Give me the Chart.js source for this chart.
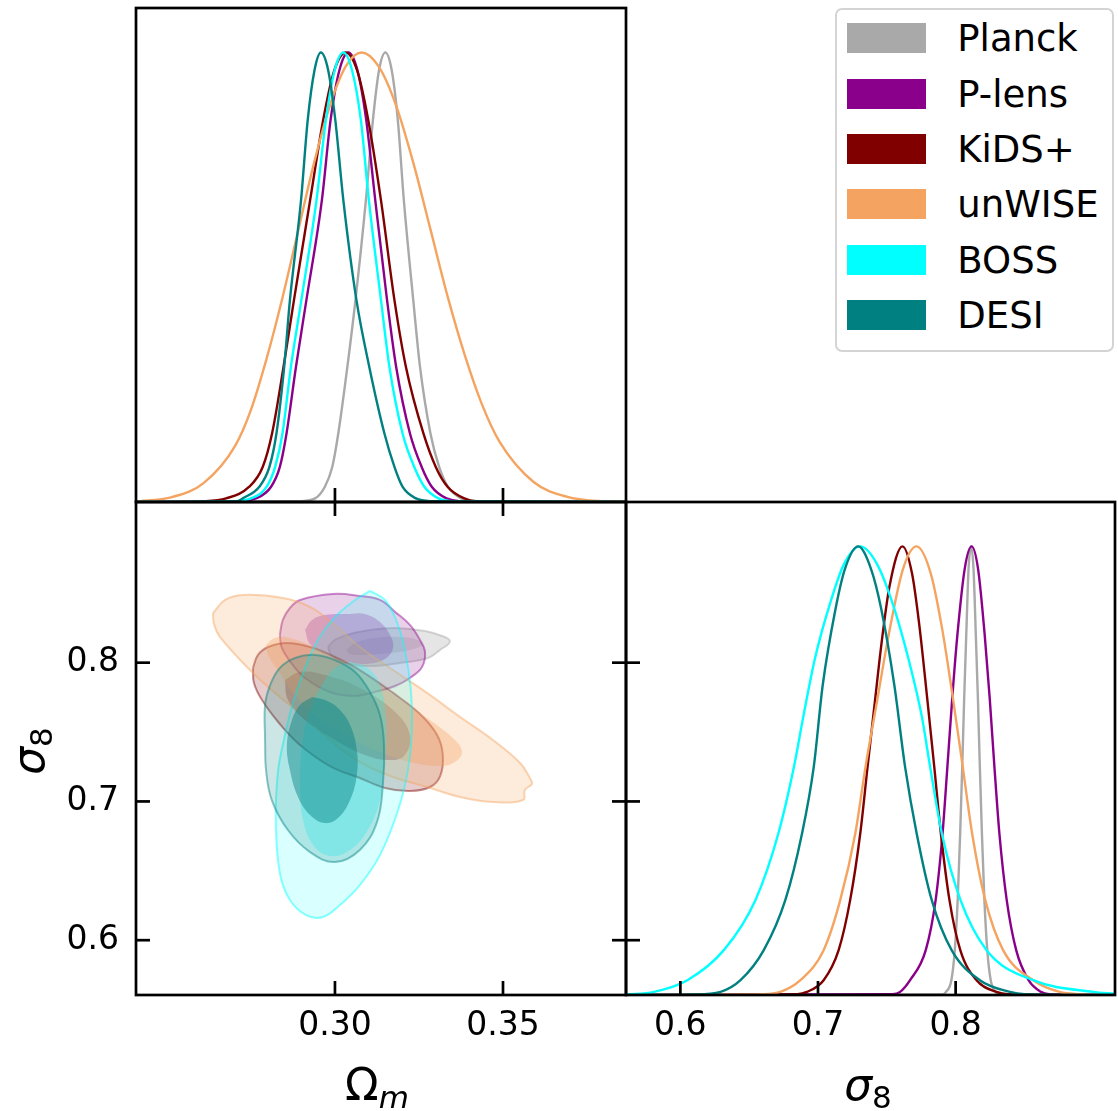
<!DOCTYPE html>
<html lang="en">
<head>
<meta charset="utf-8">
<title>Ωm – σ8 constraints</title>
<script src="https://cdn.jsdelivr.net/npm/chart.js@4.4.1/dist/chart.umd.min.js"></script>
<style>
  html, body { margin: 0; padding: 0; background: #ffffff; }
  #stage { position: relative; width: 1118px; height: 1111px; overflow: hidden; background: #ffffff; font-family: 'DejaVu Sans', sans-serif; }
  #stage canvas { position: absolute; }
  #legend { position: absolute; left: 835px; top: 8px; width: 279px; height: 344px; box-sizing: border-box;
            border: 2.7px solid #d4d4d4; border-radius: 7px; background: rgba(255,255,255,0.85); }
  .swatch { position: absolute; width: 79px; height: 30px; }
  .entry { position: absolute; font-size: 37px; line-height: 40px; height: 40px; color: #000; white-space: nowrap; }
</style>
</head>
<body>
<div id="stage">
  <canvas id="omegaPanel" width="660" height="530" style="left:0px;top:0px"></canvas>
  <canvas id="jointPanel" width="660" height="631" style="left:0px;top:480px"></canvas>
  <canvas id="sigmaPanel" width="518" height="631" style="left:600px;top:480px"></canvas>
  <div id="legend"></div>
</div>
<script>
// ---------------- axis ranges and ticks ----------------
const omegaRange = [0.2408, 0.3866];
const sigmaRange = [0.5605, 0.9158];
const densityMax = 1.099;
const omegaTicks = [0.30, 0.35];
const omegaTickLabels = ['0.30', '0.35'];
const sigmaTicks = [0.6, 0.7, 0.8];
const sigmaTickLabels = ['0.6', '0.7', '0.8'];

const probeNames = ['Planck', 'P-lens', 'KiDS+', 'unWISE', 'BOSS', 'DESI'];

// ---------------- 1D marginals of Ωm: [Ωm, density / peak] ----------------
const omPlanck = [[0.2408,0],[0.2900,0.002],[0.2941,0.008],[0.2970,0.034],[0.2992,0.078],[0.3010,0.153],[0.3037,0.301],[0.3061,0.449],[0.3092,0.671],[0.3113,0.85],[0.3131,0.96],[0.3150,1],[0.3169,0.96],[0.3187,0.85],[0.3205,0.671],[0.3233,0.449],[0.3253,0.301],[0.3284,0.153],[0.3310,0.078],[0.3336,0.034],[0.3375,0.008],[0.3410,0.002],[0.3866,0]];
const omPLens = [[0.2408,0],[0.2712,0.002],[0.2765,0.008],[0.2810,0.034],[0.2836,0.078],[0.2856,0.153],[0.2884,0.301],[0.2915,0.449],[0.2961,0.671],[0.2987,0.85],[0.3013,0.96],[0.3040,1],[0.3067,0.96],[0.3093,0.85],[0.3120,0.671],[0.3155,0.449],[0.3182,0.301],[0.3223,0.153],[0.3258,0.078],[0.3288,0.034],[0.3332,0.008],[0.3370,0.002],[0.3866,0]];
const omKiDS = [[0.2408,0],[0.2615,0.002],[0.2676,0.008],[0.2745,0.034],[0.2785,0.078],[0.2813,0.153],[0.2847,0.301],[0.2878,0.449],[0.2926,0.671],[0.2965,0.85],[0.2998,0.96],[0.3032,1],[0.3066,0.96],[0.3099,0.85],[0.3137,0.671],[0.3177,0.449],[0.3211,0.301],[0.3263,0.153],[0.3300,0.078],[0.3335,0.034],[0.3385,0.008],[0.3420,0.002],[0.3866,0]];
const omUnWISE = [[0.2408,0.0015],[0.2421,0.002],[0.2515,0.011],[0.2609,0.042],[0.2703,0.125],[0.2750,0.205],[0.2797,0.320],[0.2844,0.455],[0.2891,0.605],[0.2938,0.755],[0.2985,0.882],[0.3032,0.969],[0.3079,1],[0.3130,0.969],[0.3182,0.882],[0.3233,0.755],[0.3284,0.607],[0.3335,0.458],[0.3387,0.325],[0.3438,0.216],[0.3489,0.135],[0.3592,0.044],[0.3694,0.011],[0.3797,0.002],[0.3866,0.001]];
const omBOSS = [[0.2408,0],[0.2704,0.002],[0.2750,0.008],[0.2797,0.034],[0.2822,0.078],[0.2844,0.153],[0.2869,0.301],[0.2900,0.449],[0.2945,0.671],[0.2973,0.85],[0.2999,0.96],[0.3025,1],[0.3051,0.96],[0.3077,0.85],[0.3101,0.671],[0.3137,0.449],[0.3162,0.301],[0.3201,0.153],[0.3236,0.078],[0.3266,0.034],[0.3308,0.008],[0.3346,0.002],[0.3866,0]];
const omDESI = [[0.2408,0],[0.2711,0.002],[0.2725,0.008],[0.2775,0.034],[0.2805,0.078],[0.2826,0.153],[0.2849,0.301],[0.2866,0.449],[0.2899,0.671],[0.2919,0.85],[0.2939,0.96],[0.2958,1],[0.2980,0.96],[0.3001,0.85],[0.3025,0.671],[0.3064,0.449],[0.3102,0.301],[0.3147,0.153],[0.3177,0.078],[0.3201,0.034],[0.3241,0.008],[0.3283,0.002],[0.3866,0]];

// ---------------- 1D marginals of σ8: [σ8, density / peak] ----------------
const s8Planck = [[0.5605,0],[0.7900,0.001],[0.7930,0.007],[0.7969,0.033],[0.7994,0.100],[0.8015,0.212],[0.8033,0.360],[0.8048,0.508],[0.8062,0.66],[0.8077,0.80],[0.8094,0.95],[0.8112,1],[0.8130,0.95],[0.8147,0.80],[0.8162,0.66],[0.8176,0.508],[0.8191,0.360],[0.8209,0.212],[0.8230,0.100],[0.8255,0.033],[0.8290,0.007],[0.8320,0.001],[0.9158,0]];
const s8PLens = [[0.5605,0],[0.7540,0.002],[0.7597,0.007],[0.7669,0.033],[0.7783,0.100],[0.7855,0.212],[0.7905,0.360],[0.7940,0.508],[0.7975,0.66],[0.8012,0.80],[0.8066,0.95],[0.8116,1],[0.8163,0.95],[0.8212,0.80],[0.8248,0.66],[0.8282,0.508],[0.8318,0.360],[0.8371,0.212],[0.8440,0.100],[0.8530,0.033],[0.8620,0.007],[0.8680,0.002],[0.9158,0]];
const s8KiDS = [[0.5605,0],[0.6850,0.002],[0.6920,0.007],[0.7041,0.033],[0.7150,0.100],[0.7234,0.212],[0.7307,0.360],[0.7360,0.508],[0.7412,0.65],[0.7460,0.78],[0.7519,0.91],[0.7614,1],[0.7683,0.94],[0.7734,0.83],[0.7794,0.66],[0.7845,0.508],[0.7893,0.360],[0.7955,0.212],[0.8034,0.100],[0.8152,0.033],[0.8297,0.007],[0.8380,0.002],[0.9158,0]];
const s8UnWISE = [[0.5605,0],[0.6600,0.002],[0.6727,0.007],[0.6872,0.033],[0.7041,0.100],[0.7162,0.212],[0.7271,0.360],[0.7345,0.508],[0.7432,0.66],[0.7512,0.80],[0.7618,0.95],[0.7717,1],[0.7819,0.94],[0.7900,0.82],[0.7981,0.66],[0.8052,0.508],[0.8120,0.360],[0.8215,0.212],[0.8345,0.100],[0.8563,0.033],[0.8756,0.007],[0.8900,0.002],[0.9158,0]];
const s8BOSS = [[0.5605,0.001],[0.5809,0.007],[0.6051,0.033],[0.6316,0.100],[0.6546,0.212],[0.6712,0.360],[0.6825,0.508],[0.6893,0.62],[0.6978,0.75],[0.7085,0.87],[0.7188,0.96],[0.7307,1],[0.7430,0.96],[0.7545,0.87],[0.7665,0.74],[0.7755,0.62],[0.7815,0.508],[0.7900,0.360],[0.8035,0.212],[0.8225,0.100],[0.8563,0.033],[0.8998,0.007],[0.9158,0.003]];
const s8DESI = [[0.5605,0],[0.6100,0.001],[0.6292,0.007],[0.6437,0.033],[0.6606,0.100],[0.6763,0.212],[0.6884,0.360],[0.6969,0.508],[0.7034,0.69],[0.7127,0.86],[0.7196,0.95],[0.7292,1],[0.7385,0.95],[0.7460,0.86],[0.7555,0.69],[0.7633,0.508],[0.7717,0.360],[0.7826,0.212],[0.7971,0.100],[0.8176,0.033],[0.8394,0.007],[0.8500,0.002],[0.9158,0]];

// ---------------- 2D contours in the (Ωm, σ8) plane: [Ωm, σ8] ----------------
const ctPlanck95 = [[0.2979,0.8113],[0.3000,0.8164],[0.3045,0.8207],[0.3104,0.8236],[0.3179,0.8250],[0.3268,0.8228],[0.3327,0.8185],[0.3342,0.8149],[0.3313,0.8092],[0.3277,0.8034],[0.3193,0.7998],[0.3104,0.7976],[0.3030,0.7998],[0.2991,0.8048]];
const ctPlanck68 = [[0.3033,0.8092],[0.3060,0.8142],[0.3119,0.8178],[0.3193,0.8185],[0.3247,0.8164],[0.3259,0.8128],[0.3223,0.8092],[0.3164,0.8070],[0.3089,0.8056],[0.3045,0.8063]];
const ctPLens95 = [[0.2836,0.8199],[0.2845,0.8308],[0.2866,0.8394],[0.2896,0.8452],[0.2994,0.8495],[0.3074,0.8481],[0.3134,0.8452],[0.3179,0.8366],[0.3223,0.8272],[0.3253,0.8164],[0.3268,0.8077],[0.3259,0.7969],[0.3223,0.7890],[0.3179,0.7832],[0.3119,0.7789],[0.3060,0.7760],[0.2985,0.7789],[0.2911,0.7890],[0.2872,0.7991],[0.2842,0.8106]];
const ctPLens68 = [[0.2911,0.8236],[0.2932,0.8308],[0.2970,0.8344],[0.3045,0.8351],[0.3089,0.8351],[0.3134,0.8293],[0.3164,0.8199],[0.3173,0.8106],[0.3149,0.8027],[0.3089,0.7991],[0.3030,0.8012],[0.2970,0.8063],[0.2926,0.8135]];
const ctKiDS95 = [[0.2756,0.7962],[0.2771,0.8056],[0.2801,0.8113],[0.2857,0.8142],[0.2926,0.8113],[0.3000,0.8041],[0.3074,0.7947],[0.3173,0.7782],[0.3253,0.7630],[0.3304,0.7479],[0.3321,0.7335],[0.3313,0.7183],[0.3283,0.7104],[0.3223,0.7075],[0.3149,0.7097],[0.3074,0.7169],[0.2985,0.7255],[0.2896,0.7407],[0.2836,0.7558],[0.2783,0.7731],[0.2759,0.7854]];
const ctKiDS68 = [[0.2851,0.7875],[0.2896,0.7933],[0.2970,0.7911],[0.3074,0.7818],[0.3179,0.7645],[0.3223,0.7479],[0.3208,0.7335],[0.3164,0.7298],[0.3089,0.7335],[0.3000,0.7443],[0.2911,0.7587],[0.2860,0.7731]];
const ctUnWISE95 = [[0.2637,0.8358],[0.2673,0.8452],[0.2726,0.8488],[0.2845,0.8466],[0.2926,0.8402],[0.3000,0.8272],[0.3074,0.8113],[0.3173,0.7947],[0.3274,0.7782],[0.3372,0.7609],[0.3470,0.7443],[0.3551,0.7277],[0.3580,0.7169],[0.3586,0.7125],[0.3565,0.7083],[0.3560,0.7010],[0.3470,0.6996],[0.3372,0.7032],[0.3274,0.7104],[0.3173,0.7176],[0.3074,0.7284],[0.2985,0.7443],[0.2896,0.7637],[0.2836,0.7753],[0.2756,0.7926],[0.2658,0.8185],[0.2640,0.8280]];
const ctUnWISE68 = [[0.2795,0.8128],[0.2821,0.8178],[0.2866,0.8178],[0.2955,0.8092],[0.3074,0.7933],[0.3173,0.7767],[0.3274,0.7601],[0.3357,0.7443],[0.3378,0.7356],[0.3357,0.7284],[0.3313,0.7255],[0.3223,0.7284],[0.3134,0.7356],[0.3045,0.7457],[0.2955,0.7601],[0.2881,0.7767],[0.2830,0.7947],[0.2801,0.8056]];
const ctBOSS95 = [[0.3104,0.8517],[0.3149,0.8452],[0.3182,0.8308],[0.3208,0.8092],[0.3226,0.7803],[0.3229,0.7515],[0.3217,0.7226],[0.3188,0.6938],[0.3134,0.6613],[0.3074,0.6397],[0.3015,0.6253],[0.2964,0.6167],[0.2914,0.6181],[0.2866,0.6289],[0.2836,0.6484],[0.2824,0.6844],[0.2830,0.7205],[0.2848,0.7443],[0.2875,0.7709],[0.2911,0.7962],[0.2949,0.8164],[0.3000,0.8329],[0.3060,0.8452]];
const ctBOSS68 = [[0.3045,0.8005],[0.3098,0.7962],[0.3134,0.7839],[0.3152,0.7587],[0.3149,0.7298],[0.3134,0.7010],[0.3098,0.6794],[0.3045,0.6650],[0.2985,0.6606],[0.2935,0.6686],[0.2905,0.6866],[0.2896,0.7118],[0.2902,0.7407],[0.2926,0.7659],[0.2961,0.7839],[0.3000,0.7962]];
const ctDESI95 = [[0.2792,0.7443],[0.2792,0.7695],[0.2807,0.7839],[0.2836,0.7962],[0.2881,0.8034],[0.2940,0.8056],[0.3000,0.8019],[0.3060,0.7933],[0.3104,0.7789],[0.3134,0.7623],[0.3146,0.7407],[0.3143,0.7133],[0.3125,0.6851],[0.3074,0.6650],[0.3000,0.6563],[0.2926,0.6635],[0.2860,0.6794],[0.2812,0.7010],[0.2795,0.7226]];
const ctDESI68 = [[0.2932,0.7753],[0.2970,0.7731],[0.3009,0.7673],[0.3045,0.7551],[0.3065,0.7371],[0.3065,0.7190],[0.3045,0.7010],[0.3009,0.6880],[0.2970,0.6844],[0.2926,0.6902],[0.2890,0.7032],[0.2866,0.7226],[0.2857,0.7407],[0.2872,0.7587],[0.2896,0.7695]];

// ---------------- styling ----------------
const probeColors = ['#a9a9a9', '#8b008b', '#800000', '#f4a460', '#00ffff', '#008080'];
const outerFillAlpha = [0.30, 0.18, 0.20, 0.22, 0.15, 0.20];
const innerFillAlpha = [0.30, 0.25, 0.30, 0.35, 0.25, 0.45];
const edgeAlpha = 0.45;
const curveWidth = 2.4;
const frameWidth = 2.7;
const tickFont = { family: 'DejaVu Sans', size: 33 };

const omegaCurves = [omPlanck, omPLens, omKiDS, omUnWISE, omBOSS, omDESI];
const sigmaCurves = [s8Planck, s8PLens, s8KiDS, s8UnWISE, s8BOSS, s8DESI];
const outerContours = [ctPlanck95, ctPLens95, ctKiDS95, ctUnWISE95, ctBOSS95, ctDESI95];
const innerContours = [ctPlanck68, ctPLens68, ctKiDS68, ctUnWISE68, ctBOSS68, ctDESI68];

function rgba(hex, a) {
  const n = parseInt(hex.slice(1), 16);
  return `rgba(${(n >> 16) & 255},${(n >> 8) & 255},${n & 255},${a})`;
}
const toXY = pts => pts.map(p => ({ x: p[0], y: p[1] }));

// marginal density curves; later probes are painted on top
function curveSets(curves) {
  return curves.map((pts, i) => ({
    label: probeNames[i],
    data: toXY(pts),
    borderColor: probeColors[i],
    borderWidth: curveWidth,
    pointRadius: 0,
    fill: false,
    cubicInterpolationMode: 'monotone',
    order: curves.length - i
  }));
}

// closed, filled confidence regions
function contourSets() {
  const sets = [];
  probeNames.forEach((name, i) => {
    const base = (probeNames.length - i) * 2;
    const outer = toXY(outerContours[i]); outer.push({ ...outer[0] });
    const inner = toXY(innerContours[i]); inner.push({ ...inner[0] });
    sets.push({
      label: name + ' 95%', data: outer, fill: 'shape', tension: 0.4, pointRadius: 0,
      backgroundColor: rgba(probeColors[i], outerFillAlpha[i]),
      borderColor: rgba(probeColors[i], edgeAlpha), borderWidth: 2, order: base
    });
    sets.push({
      label: name + ' 68%', data: inner, fill: 'shape', tension: 0.4, pointRadius: 0,
      backgroundColor: rgba(probeColors[i], innerFillAlpha[i]),
      borderColor: 'rgba(0,0,0,0)', borderWidth: 1, order: base + 1
    });
  });
  return sets;
}

// text with a sub-script part, centred on (x, y) baseline
function drawMathLabel(ctx, spec) {
  ctx.save();
  ctx.translate(spec.x, spec.y);
  if (spec.rotate) ctx.rotate(spec.rotate);
  ctx.fillStyle = '#000';
  ctx.textBaseline = 'alphabetic';
  ctx.textAlign = 'left';
  const widths = spec.parts.map(p => { ctx.font = p.font; return ctx.measureText(p.text).width; });
  const total = widths.reduce((a, b) => a + b, 0);
  let cx = -total / 2;
  spec.parts.forEach((p, i) => { ctx.font = p.font; ctx.fillText(p.text, cx, p.dy || 0); cx += widths[i]; });
  ctx.restore();
}

// frame, inward tick marks and axis titles of one panel
function panelDecor(spec) {
  return {
    id: 'panelDecor',
    afterDraw(chart) {
      const { ctx, chartArea: a, scales } = chart;
      ctx.save();
      ctx.strokeStyle = '#000';
      ctx.lineWidth = frameWidth;
      ctx.lineCap = 'butt';
      (spec.marks || []).forEach(m => {
        const sc = scales[m.scale];
        m.values.forEach(v => {
          const p = sc.getPixelForValue(v);
          ctx.beginPath();
          if (m.side === 'bottom') { ctx.moveTo(p, a.bottom + m.out); ctx.lineTo(p, a.bottom - m.inn); }
          else if (m.side === 'top') { ctx.moveTo(p, a.top - m.out); ctx.lineTo(p, a.top + m.inn); }
          else if (m.side === 'left') { ctx.moveTo(a.left - m.out, p); ctx.lineTo(a.left + m.inn, p); }
          else { ctx.moveTo(a.right + m.out, p); ctx.lineTo(a.right - m.inn, p); }
          ctx.stroke();
        });
      });
      ctx.strokeRect(a.left, a.top, a.right - a.left, a.bottom - a.top);
      (spec.titles || []).forEach(t => drawMathLabel(ctx, t));
      ctx.restore();
    }
  };
}

function fixedTicks(values) {
  return scale => { scale.ticks = values.map(v => ({ value: v })); };
}
// pin an axis to a fixed thickness and drop the extra room Chart.js keeps for edge labels
function pinAxis(size) {
  return scale => {
    if (scale.isHorizontal()) scale.height = size; else scale.width = size;
    scale.paddingTop = 0; scale.paddingBottom = 0; scale.paddingLeft = 0; scale.paddingRight = 0;
  };
}

const common = {
  responsive: false,
  animation: false,
  devicePixelRatio: 1,
  events: [],
  plugins: { legend: { display: false }, tooltip: { enabled: false } }
};

// ---- top-left: Ωm marginals ----
new Chart(document.getElementById('omegaPanel'), {
  type: 'line',
  data: { datasets: curveSets(omegaCurves) },
  options: {
    ...common,
    layout: { padding: { left: 136, top: 8, right: 34, bottom: 28 } },
    scales: {
      x: { type: 'linear', min: omegaRange[0], max: omegaRange[1], display: false, afterBuildTicks: fixedTicks(omegaTicks) },
      y: { type: 'linear', min: 0, max: densityMax, display: false }
    }
  },
  plugins: [panelDecor({ marks: [] })]
});

// ---- bottom-left: σ8 vs Ωm ----
const labelFontBig = '44px "DejaVu Sans"';
const labelFontSub = '31px "DejaVu Sans"';
new Chart(document.getElementById('jointPanel'), {
  type: 'line',
  data: { datasets: contourSets() },
  options: {
    ...common,
    layout: { padding: { left: 0, top: 22, right: 34, bottom: 0 } },
    scales: {
      x: {
        type: 'linear', position: 'bottom', min: omegaRange[0], max: omegaRange[1],
        afterBuildTicks: fixedTicks(omegaTicks),
        afterFit: pinAxis(116),
        grid: { display: false, drawTicks: false }, border: { display: false },
        ticks: { autoSkip: false, maxRotation: 0, padding: 12, color: '#000', font: tickFont,
                 callback: (v, i) => omegaTickLabels[i] }
      },
      y: {
        type: 'linear', position: 'left', min: sigmaRange[0], max: sigmaRange[1],
        afterBuildTicks: fixedTicks(sigmaTicks),
        afterFit: pinAxis(136),
        grid: { display: false, drawTicks: false }, border: { display: false },
        ticks: { autoSkip: false, padding: 17, color: '#000', font: tickFont,
                 callback: (v, i) => sigmaTickLabels[i] }
      }
    }
  },
  plugins: [panelDecor({
    marks: [
      { scale: 'x', side: 'bottom', values: omegaTicks, inn: 14, out: 0 },
      { scale: 'x', side: 'top', values: omegaTicks, inn: 14, out: 14 },
      { scale: 'y', side: 'left', values: sigmaTicks, inn: 14, out: 0 },
      { scale: 'y', side: 'right', values: sigmaTicks, inn: 14, out: 14 }
    ],
    titles: [
      { x: 377, y: 620, parts: [{ text: 'Ω', font: labelFontBig }, { text: 'm', font: 'italic ' + labelFontSub, dy: 8 }] },
      { x: 44, y: 271, rotate: -Math.PI / 2, parts: [{ text: 'σ', font: 'italic ' + labelFontBig }, { text: '8', font: labelFontSub, dy: 8 }] }
    ]
  })]
});

// ---- bottom-right: σ8 marginals ----
new Chart(document.getElementById('sigmaPanel'), {
  type: 'line',
  data: { datasets: curveSets(sigmaCurves) },
  options: {
    ...common,
    layout: { padding: { left: 26, top: 22, right: 3, bottom: 0 } },
    scales: {
      x: {
        type: 'linear', position: 'bottom', min: sigmaRange[0], max: sigmaRange[1],
        afterBuildTicks: fixedTicks(sigmaTicks),
        afterFit: pinAxis(116),
        grid: { display: false, drawTicks: false }, border: { display: false },
        ticks: { autoSkip: false, maxRotation: 0, padding: 12, color: '#000', font: tickFont,
                 callback: (v, i) => sigmaTickLabels[i] }
      },
      y: { type: 'linear', min: 0, max: densityMax, display: false }
    }
  },
  plugins: [panelDecor({
    marks: [{ scale: 'x', side: 'bottom', values: sigmaTicks, inn: 14, out: 0 }],
    titles: [
      { x: 268, y: 620, parts: [{ text: 'σ', font: 'italic ' + labelFontBig }, { text: '8', font: labelFontSub, dy: 8 }] }
    ]
  })]
});

// ---- legend ----
const legend = document.getElementById('legend');
probeNames.forEach((name, i) => {
  const sw = document.createElement('div');
  sw.className = 'swatch';
  sw.style.left = (848 - 835 - 2.7) + 'px';
  sw.style.top = (24 + i * 55.3 - 8 - 2.7) + 'px';
  sw.style.background = probeColors[i];
  legend.appendChild(sw);
  const tx = document.createElement('div');
  tx.className = 'entry';
  tx.style.left = (958 - 835 - 2.7) + 'px';
  tx.style.top = (20 + i * 55.3 - 8 - 2.7) + 'px';
  tx.textContent = name;
  legend.appendChild(tx);
});
</script>
</body>
</html>
